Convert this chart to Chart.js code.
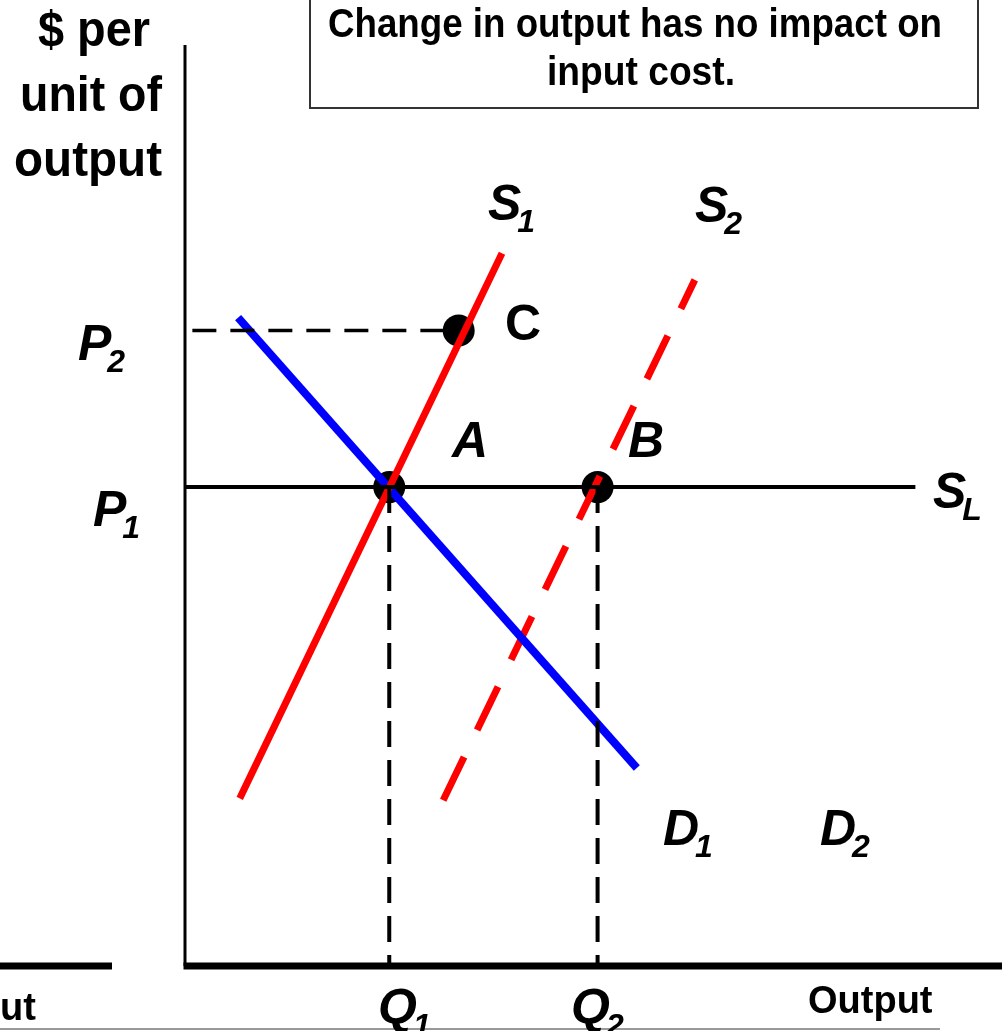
<!DOCTYPE html>
<html>
<head>
<meta charset="utf-8">
<script src="https://cdn.jsdelivr.net/npm/chart.js@4/dist/chart.umd.min.js"></script>
<style>
  html, body { margin: 0; padding: 0; background: #fff; }
  #wrap { width: 1002px; height: 1031px; }
</style>
</head>
<body>
<div id="wrap"><canvas id="supplyChart" width="1002" height="1031"></canvas></div>
<script>
// axis units run 0..100 on both axes
const qLevels = [25, 50.5];   // Q1, Q2
const pLevels = [52, 69];     // P1, P2
const s1X = [6.7, 38.8];
const s1Y = [18.2, 77.4];
const s2X = [31.6, 62.4];
const s2Y = [18.0, 74.5];
const d1X = [6.5, 55.3];
const d1Y = [70.4, 21.5];
const slEnd = 89.4;
const pointNames = ["A", "B", "C"];
const pointX = [25, 50.5, 33.5];
const pointY = [52, 52, 69];

const toPts = (xs, ys) => xs.map((x, i) => ({ x: x, y: ys[i] }));

const axesPlugin = {
  id: "axes",
  beforeDatasetsDraw(chart) {
    const { ctx, chartArea: a } = chart;
    ctx.save();
    ctx.strokeStyle = "#000";
    ctx.lineWidth = 3;
    ctx.beginPath();
    ctx.moveTo(a.left, a.top);
    ctx.lineTo(a.left, a.bottom);
    ctx.stroke();
    ctx.lineWidth = 7;
    ctx.beginPath();
    ctx.moveTo(a.left - 1.5, a.bottom);
    ctx.lineTo(a.right, a.bottom);
    ctx.stroke();
    // piece of the neighbouring panel
    ctx.beginPath();
    ctx.moveTo(0, a.bottom);
    ctx.lineTo(112, a.bottom);
    ctx.stroke();
    ctx.lineWidth = 2;
    ctx.strokeStyle = "#999";
    ctx.beginPath();
    ctx.moveTo(0, 1029);
    ctx.lineTo(940, 1029);
    ctx.stroke();
    ctx.restore();
  }
};

const textPlugin = {
  id: "texts",
  afterDraw(chart) {
    const ctx = chart.ctx;
    ctx.save();
    ctx.fillStyle = "#000";
    ctx.textBaseline = "alphabetic";

    // note box
    ctx.strokeStyle = "#333";
    ctx.lineWidth = 2;
    ctx.fillStyle = "#fff";
    ctx.fillRect(310, -5, 668, 113);
    ctx.strokeRect(310, -5, 668, 113);
    ctx.fillStyle = "#000";
    ctx.textAlign = "center";
    ctx.font = "bold 40px 'Liberation Sans Narrow', 'Liberation Sans', Arial, sans-serif";
    ctx.fillText("Change in output has no impact on", 635, 37, 614);
    ctx.fillText("input cost.", 641, 85, 188);

    // y axis title
    ctx.font = "bold 50px 'Liberation Sans', Arial, sans-serif";
    ctx.fillText("$ per", 94, 46, 112);
    ctx.fillText("unit of", 91, 111, 142);
    ctx.fillText("output", 88, 176, 148);

    ctx.textAlign = "left";
    ctx.font = "bold 38px 'Liberation Sans', Arial, sans-serif";
    ctx.fillText("Output", 808, 1013, 134);
    ctx.fillText("ut", 0, 1020);

    const big = "italic bold 50px 'Liberation Sans', Arial, sans-serif";
    const sub = "italic bold 32px 'Liberation Sans', Arial, sans-serif";
    const lab = (main, s, x, y) => {
      ctx.font = big;
      ctx.fillText(main, x, y);
      if (s) {
        const w = ctx.measureText(main).width;
        ctx.font = sub;
        ctx.fillText(s, x + w - 4, y + 12);
      }
    };
    lab("S", "1", 488, 220);
    lab("S", "2", 695, 222);
    lab("P", "2", 78, 360);
    lab("P", "1", 93, 526);
    lab("S", "L", 933, 508);
    lab("D", "1", 663, 845);
    lab("D", "2", 820, 845);
    lab("Q", "1", 378, 1024);
    lab("Q", "2", 571, 1024);
    lab("A", "", 452, 457);
    lab("B", "", 628, 457);
    ctx.font = "bold 50px 'Liberation Sans', Arial, sans-serif";
    ctx.fillText("C", 505, 340);
    ctx.restore();
  }
};

new Chart(document.getElementById("supplyChart").getContext("2d"), {
  type: "scatter",
  data: {
    datasets: [
      {
        label: "P2 guide",
        data: [{ x: 0.9, y: pLevels[1] }, { x: pointX[2], y: pLevels[1] }],
        borderColor: "#000", borderWidth: 3.5, borderDash: [24, 14]
      },
      {
        label: "Q1 guide",
        data: [{ x: qLevels[0], y: pLevels[0] }, { x: qLevels[0], y: 0 }],
        borderColor: "#000", borderWidth: 4, borderDash: [26, 13]
      },
      {
        label: "Q2 guide",
        data: [{ x: qLevels[1], y: pLevels[0] }, { x: qLevels[1], y: 0 }],
        borderColor: "#000", borderWidth: 4, borderDash: [26, 13]
      },
      {
        label: "SL",
        data: [{ x: 0, y: pLevels[0] }, { x: slEnd, y: pLevels[0] }],
        borderColor: "#000", borderWidth: 4
      },
      {
        label: "S1",
        data: toPts(s1X, s1Y),
        borderColor: "#ff0000", borderWidth: 7
      },
      {
        label: "D1",
        data: toPts(d1X, d1Y),
        borderColor: "#0000ff", borderWidth: 8
      },
      {
        label: "S2",
        data: toPts(s2X, s2Y),
        borderColor: "#ff0000", borderWidth: 7, borderDash: [48, 30]
      },
      {
        label: "points",
        data: toPts(pointX, pointY),
        showLine: false,
        pointRadius: 16,
        pointBackgroundColor: "#000",
        pointBorderWidth: 0
      }
    ].map(d => Object.assign({ showLine: true, pointRadius: 0, fill: false, borderCapStyle: "butt" }, d))
  },
  options: {
    responsive: false,
    animation: false,
    layout: { autoPadding: false, padding: { left: 185, right: 0, top: 45, bottom: 65 } },
    plugins: { legend: { display: false }, tooltip: { enabled: false } },
    scales: {
      x: { type: "linear", min: 0, max: 100, display: false },
      y: { type: "linear", min: 0, max: 100, display: false }
    }
  },
  plugins: [axesPlugin, textPlugin]
});
</script>
</body>
</html>
